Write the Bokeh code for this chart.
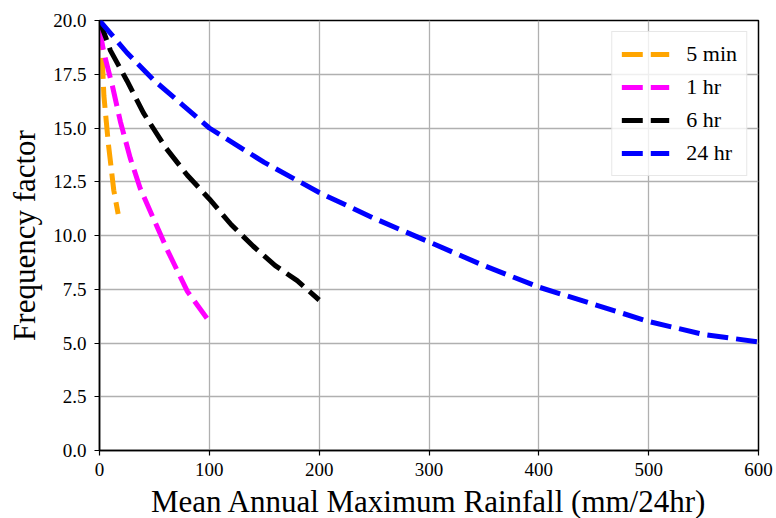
from bokeh.plotting import figure
from bokeh.embed import file_html
from bokeh.resources import INLINE
from bokeh.models import Range1d, SingleIntervalTicker, Legend, LegendItem, NumeralTickFormatter

x_5min = [0, 2, 4, 8, 13, 17]
y_5min = [19.6, 18.8, 16.5, 14.3, 12.1, 11.0]

x_1hr = [0, 4, 12, 19, 28, 37, 49, 62, 80, 100]
y_1hr = [19.6, 18.5, 16.9, 15.3, 13.6, 12.2, 10.8, 9.3, 7.4, 6.0]

x_6hr = [0, 10, 25, 40, 60, 80, 100, 120, 140, 160, 180, 200]
y_6hr = [20.0, 18.6, 17.2, 15.7, 14.1, 12.8, 11.7, 10.5, 9.5, 8.6, 7.9, 7.0]

x_24hr = [0, 25, 50, 75, 100, 150, 200, 250, 300, 350, 400, 450, 500, 550, 600]
y_24hr = [20.0, 18.5, 17.2, 16.1, 15.0, 13.4, 12.0, 10.8, 9.7, 8.6, 7.6, 6.8, 6.0, 5.4, 5.05]

labels = ["5 min", "1 hr", "6 hr", "24 hr"]
colors = ["orange", "magenta", "black", "blue"]

FONT = "Liberation Serif"

p = figure(frame_width=659, frame_height=430, output_backend="svg", toolbar_location=None,
           x_range=Range1d(0, 600), y_range=Range1d(0, 20),
           min_border_left=99, min_border_right=18, min_border_top=20, min_border_bottom=68)

series = [(x_5min, y_5min), (x_1hr, y_1hr), (x_6hr, y_6hr), (x_24hr, y_24hr)]
items = []
for (xs, ys), lab, col in zip(series, labels, colors):
    r = p.line(xs, ys, line_color=col, line_width=5, line_dash="21 8")
    items.append(LegendItem(label=lab, renderers=[r]))

p.xaxis.ticker = SingleIntervalTicker(interval=100)
p.yaxis.ticker = SingleIntervalTicker(interval=2.5)
p.yaxis.formatter = NumeralTickFormatter(format="0.0")

for ax in [p.xaxis[0], p.yaxis[0]]:
    ax.major_label_text_font = FONT
    ax.major_label_text_font_size = "19px"
    ax.major_label_text_color = "black"
    ax.axis_label_text_font = FONT
    ax.axis_label_text_font_size = "31px"
    ax.axis_label_text_font_style = "normal"
    ax.axis_label_text_color = "black"
    ax.axis_line_color = "black"
    ax.axis_line_width = 1.5
    ax.major_tick_line_color = "black"
    ax.major_tick_line_width = 1.2
    ax.major_tick_out = 5
    ax.major_tick_in = 0
    ax.minor_tick_line_color = None

p.xaxis.axis_label = "Mean Annual Maximum Rainfall (mm/24hr)"
p.yaxis.axis_label = "Frequency factor"
p.xaxis.major_label_standoff = 7
p.yaxis.major_label_standoff = 8
p.xaxis.axis_label_standoff = 5
p.yaxis.axis_label_standoff = 8

p.grid.grid_line_color = "#b0b0b0"
p.grid.grid_line_width = 1.3
p.outline_line_color = "black"
p.outline_line_width = 1.5
p.background_fill_color = "white"
p.border_fill_color = "white"

legend = Legend(items=items, location="top_right")
legend.label_text_font = FONT
legend.label_text_font_size = "22px"
legend.label_text_color = "black"
legend.glyph_width = 48
legend.glyph_height = 22
legend.label_height = 22
legend.spacing = 7
legend.padding = 9
legend.margin = 11
legend.label_standoff = 17
legend.border_line_color = "#d0d0d0"
legend.border_line_width = 1
legend.background_fill_alpha = 0.8
p.add_layout(legend)

open("out.html", "w").write(file_html(p, INLINE))
